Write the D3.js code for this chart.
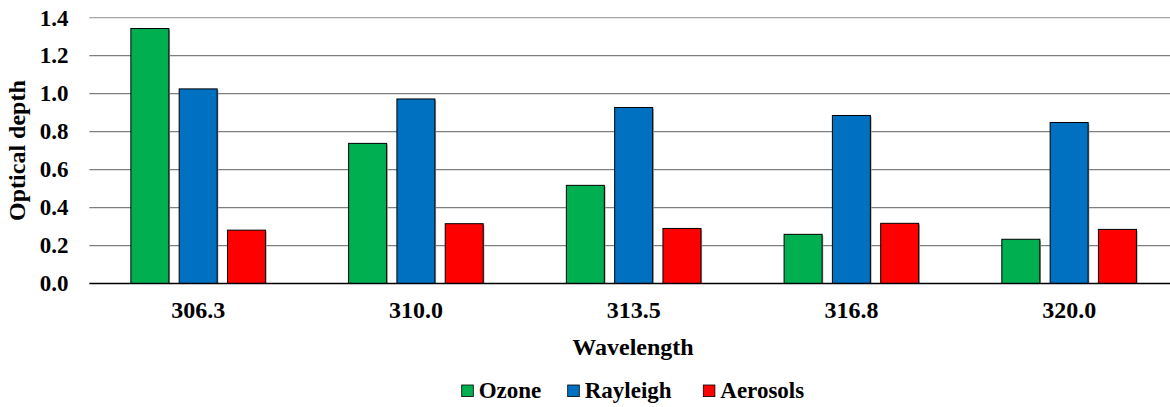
<!DOCTYPE html>
<html><head><meta charset="utf-8">
<script src="https://cdn.jsdelivr.net/npm/d3@7"></script>
</head><body style="margin:0;overflow:hidden">
<svg id="c" width="1170" height="407" style="font-family:'Liberation Serif';font-weight:bold"></svg>
<script>
const categories = ["306.3", "310.0", "313.5", "316.8", "320.0"];
const seriesNames = ["Ozone", "Rayleigh", "Aerosols"];
const ozone    = [1.343, 0.738, 0.517, 0.259, 0.233];
const rayleigh = [1.025, 0.972, 0.927, 0.885, 0.848];
const aerosols = [0.281, 0.315, 0.290, 0.317, 0.285];
const yTicks = [0, 0.2, 0.4, 0.6, 0.8, 1.0, 1.2, 1.4];
const colors = ["#00B050", "#0070C0", "#FF0000"];

(function () {
const values = [ozone, rayleigh, aerosols];
const svg = d3.select("#c");
const pLeft = 89.3, pRight = 1178, pTop = 17.7, pBottom = 283.5;

const x0 = d3.scaleBand().domain(categories).range([pLeft, pRight]).paddingInner(0).paddingOuter(0);
const y = d3.scaleLinear().domain([0, 1.4]).range([pBottom, pTop]);
const barW = 38, barStep = 48.3;

function txt(sel, size) {
  return sel.style("font-family", '"Liberation Serif"').style("font-weight", "bold").style("font-size", size + "px");
}

// gridlines
svg.append("g").selectAll("line").data(yTicks.filter(d => d > 0)).join("line")
  .attr("x1", pLeft).attr("x2", pRight)
  .attr("y1", d => y(d)).attr("y2", d => y(d))
  .attr("stroke", d => d === 1.4 ? "#a6a6a6" : "#7f7f7f").attr("stroke-width", 1.3);

// y tick labels
txt(svg.append("g").selectAll("text").data(yTicks).join("text")
  .attr("x", 68.5).attr("y", d => y(d)).attr("dy", "0.34em")
  .attr("text-anchor", "end"), 23).text(d => d.toFixed(1));

// bars
const groups = svg.append("g").selectAll("g").data(categories).join("g");
groups.each(function(cat, ci) {
  const g = d3.select(this);
  const cx = x0(cat) + x0.bandwidth() / 2;
  seriesNames.forEach((s, si) => {
    const v = values[si][ci];
    const bx = cx + (si - 1) * barStep - barW / 2;
    g.append("rect").attr("x", bx + 1.2).attr("y", y(v) + 1.2)
      .attr("width", barW).attr("height", y(0) - y(v) - 1.2).attr("fill", "#a0a0a0");
    g.append("rect").attr("x", bx).attr("y", y(v))
      .attr("width", barW).attr("height", y(0) - y(v))
      .attr("fill", colors[si]).attr("stroke", "#000").attr("stroke-width", 1);
  });
});

// x axis line
svg.append("line").attr("x1", pLeft).attr("x2", pRight).attr("y1", y(0)).attr("y2", y(0))
  .attr("stroke", "#000").attr("stroke-width", 1.5);

// x tick labels
txt(svg.append("g").selectAll("text").data(categories).join("text")
  .attr("x", d => x0(d) + x0.bandwidth() / 2).attr("y", 318.3)
  .attr("text-anchor", "middle"), 24).text(d => d);

// axis titles
txt(svg.append("text").attr("x", 633).attr("y", 354.5).attr("text-anchor", "middle"), 24).text("Wavelength");
txt(svg.append("text").attr("transform", `translate(24.5,${(pTop + pBottom) / 2}) rotate(-90)`)
  .attr("text-anchor", "middle"), 24).text("Optical depth");

// legend
const legendX = [461.7, 567.7, 703.3];
const lg = svg.append("g").selectAll("g").data(seriesNames).join("g")
  .attr("transform", (d, i) => `translate(${legendX[i]},385)`);
lg.append("rect").attr("width", 11.6).attr("height", 11.6)
  .attr("fill", (d, i) => colors[i]).attr("stroke", "#000").attr("stroke-width", 0.8);
txt(lg.append("text").attr("x", 17).attr("y", 13), 23).text(d => d);
})();
</script>
</body></html>
